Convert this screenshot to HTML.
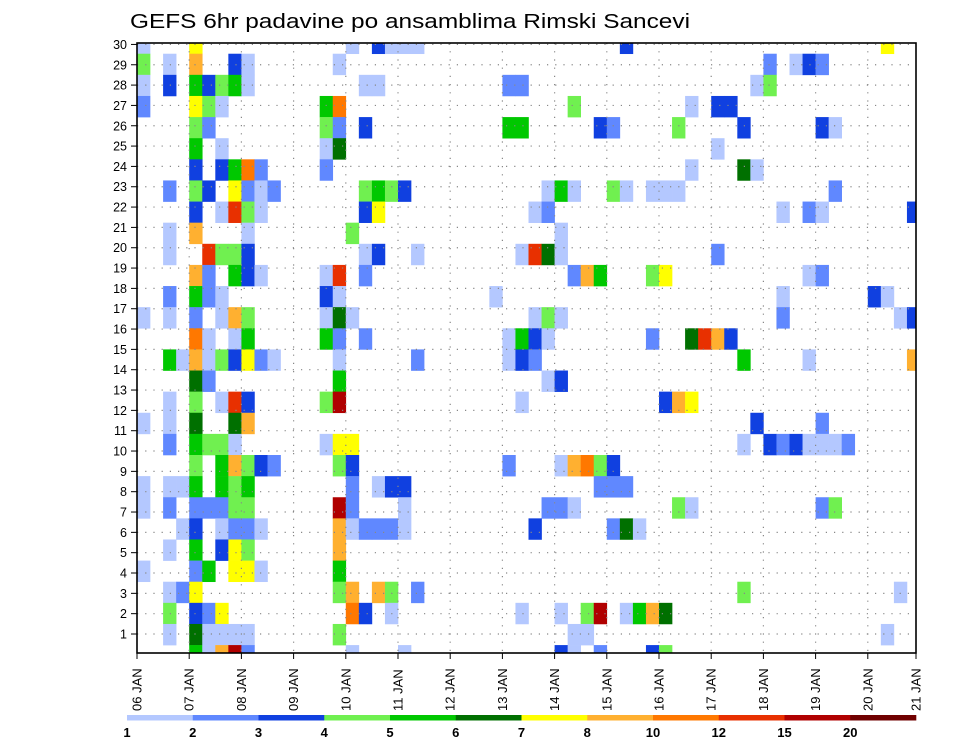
<!DOCTYPE html>
<html><head><meta charset="utf-8"><style>
html,body{margin:0;padding:0;background:#fff;}
svg{display:block;font-family:"Liberation Sans",sans-serif;}
</style></head><body>
<svg id="chart" width="960" height="742" viewBox="0 0 960 742" xmlns="http://www.w3.org/2000/svg">
<rect x="0" y="0" width="960" height="742" fill="#fff"/>
<text x="130" y="28" font-size="20" textLength="560" lengthAdjust="spacingAndGlyphs" fill="#000">GEFS 6hr padavine po ansamblima Rimski Sancevi</text>
<defs><clipPath id="plotclip"><rect x="137" y="43" width="779" height="610"/></clipPath></defs>
<g id="cells" clip-path="url(#plotclip)"></g>
<g id="grid"></g>
<rect x="137" y="43" width="779" height="610" fill="none" stroke="#000" stroke-width="1.6"/>
<g id="yaxis"></g>
<g id="xaxis"></g>
<g id="cbar"></g>
</svg>
<script>
// Data: each row is one ensemble row (top to bottom), entries "step:value" (6h steps from 06 JAN 00z)
const members = [30,29,28,27,26,25,24,23,22,21,20,19,18,17,16,15,14,13,12,11,10,9,8,7,6,5,4,3,2,1];
const rowCells = [
"0:1 4:7 16:1 18:3 19:1 20:1 21:1 37:3 57:7",
"0:4 2:1 4:8 7:3 8:1 15:1 48:2 50:1 51:3 52:2",
"0:1 2:3 4:5 5:3 6:4 7:5 8:1 17:1 18:1 28:2 29:2 47:1 48:4",
"0:2 4:7 5:4 6:1 14:5 15:10 33:4 42:1 44:3 45:3",
"4:4 5:2 14:4 15:2 17:3 28:5 29:5 35:3 36:2 41:4 46:3 52:3 53:1",
"4:5 6:1 14:1 15:6 44:1",
"4:3 6:3 7:5 8:10 9:2 14:2 42:1 46:6 47:1",
"2:2 4:4 5:3 7:7 8:2 9:1 10:2 17:4 18:5 19:4 20:3 31:1 32:5 33:1 36:4 37:1 39:1 40:1 41:1 53:2",
"4:3 6:1 7:12 8:4 9:1 17:3 18:7 30:1 31:2 49:1 51:2 52:1 59:3",
"2:1 4:8 8:1 16:4 32:1",
"2:1 5:12 6:4 7:4 8:3 17:1 18:3 21:1 29:1 30:12 31:6 32:1 44:2",
"4:8 5:2 7:5 8:3 9:1 14:1 15:12 17:2 33:2 34:8 35:5 39:4 40:7 51:1 52:2",
"2:2 4:5 5:2 6:1 14:3 15:1 27:1 49:1 56:3 57:1",
"0:1 2:1 4:2 6:1 7:8 8:4 14:1 15:6 16:1 30:1 31:4 32:1 49:2 58:1 59:3",
"4:10 5:1 7:1 8:5 14:5 15:2 17:2 28:1 29:5 30:3 31:1 39:2 42:6 43:12 44:8 45:3",
"2:5 3:1 4:8 5:1 6:4 7:3 8:7 9:2 10:1 15:1 21:2 28:1 29:3 30:2 46:5 51:1 59:8",
"4:6 5:2 15:5 31:1 32:3",
"2:1 4:4 6:1 7:12 8:3 14:4 15:15 29:1 40:3 41:8 42:7",
"0:1 2:1 4:6 7:6 8:8 47:3 52:2",
"2:2 4:5 5:4 6:4 7:1 14:1 15:7 16:7 46:1 48:3 49:2 50:3 51:1 52:1 53:1 54:2",
"4:4 6:5 7:8 8:4 9:3 10:2 15:4 16:3 28:2 32:1 33:8 34:10 35:4 36:3",
"0:1 2:1 3:1 4:5 6:5 7:4 8:5 16:2 18:1 19:3 20:3 35:2 36:2 37:2",
"0:1 2:2 4:2 5:2 6:2 7:4 8:4 15:15 16:2 20:1 31:2 32:2 33:1 41:4 42:1 52:2 53:4",
"3:1 4:3 6:1 7:2 8:2 9:1 15:8 16:1 17:2 18:2 19:2 20:1 30:3 36:2 37:6 38:1",
"2:1 4:5 6:3 7:7 8:4 15:8",
"0:1 4:2 5:5 7:7 8:7 9:1 15:5",
"2:1 3:2 4:7 15:4 16:8 18:8 19:4 21:2 46:4 58:1",
"2:4 4:3 5:2 6:7 16:10 17:3 19:1 29:1 32:1 34:4 35:15 37:1 38:5 39:8 40:6",
"2:1 4:6 5:1 6:1 7:1 8:1 15:4 33:1 34:1 57:1",
"4:5 5:1 6:8 7:15 8:2 16:1 20:1 32:3 33:1 35:2 39:3 40:4"
];
const levels = [1,2,3,4,5,6,7,8,10,12,15,20];
const levelColors = ["#b4c8ff","#6088ff","#1040e0","#70f050","#00c800","#007000","#ffff00","#ffb030","#ff7800","#e83000","#b00000","#700000"];
const yTicks = [1,2,3,4,5,6,7,8,9,10,11,12,13,14,15,16,17,18,19,20,21,22,23,24,25,26,27,28,29,30];
const dayLabels = ["06","07","08","09","10","11","12","13","14","15","16","17","18","19","20","21"];

const NS = "http://www.w3.org/2000/svg";
const X0 = 137, XR = 916, DAY = 52.2, STEP = DAY/4;
const CELL_TOP = 32.6, CELL_H = 21.12;
function xStep(s){ return X0 + s*STEP; }
function xDay(d){ return Math.min(XR, X0 + d*DAY); }
function yRow(k){ return CELL_TOP + k*CELL_H; }
function yTick(v){ return 634 - (v-1)*20.33; }
function colorFor(v){ let i = levels.indexOf(v); if(i<0){ i=0; for(let j=0;j<levels.length;j++) if(v>=levels[j]) i=j; } return levelColors[i]; }
function mk(tag, attrs, parent){ const e=document.createElementNS(NS,tag); for(const k in attrs) e.setAttribute(k, attrs[k]); parent.appendChild(e); return e; }

const cellsG = document.getElementById('cells');
rowCells.forEach((row, k) => {
  row.split(' ').filter(Boolean).forEach(tok => {
    const [s, v] = tok.split(':').map(Number);
    const r = mk('rect', {x: xStep(s).toFixed(2), y: yRow(k).toFixed(2), width: (STEP+0.3).toFixed(2), height: (CELL_H+0.3).toFixed(2), fill: colorFor(v)}, cellsG);
    
    
  });
});

const gridG = document.getElementById('grid');
yTicks.forEach(v => {
  const l = mk('line', {x1: X0, x2: XR, y1: yTick(v), y2: yTick(v), stroke: '#888', 'stroke-width': 1.2, 'stroke-dasharray': '1.2,7'}, gridG);
  
  
});
dayLabels.forEach((d, i) => {
  if(i===0 || i===dayLabels.length-1) return;
  const l = mk('line', {x1: xDay(i), x2: xDay(i), y1: 43, y2: 653, stroke: '#888', 'stroke-width': 1.2, 'stroke-dasharray': '1.2,7'}, gridG);
  
  
});

const yG = document.getElementById('yaxis');
yTicks.forEach(v => {
  const t = mk('line', {x1: 131, x2: 137, y1: yTick(v), y2: yTick(v), stroke: '#000', 'stroke-width': 1}, yG);
  
  
  const tx = mk('text', {x: 127, y: yTick(v)+4.5, 'font-size': 12.5, 'text-anchor': 'end', fill: '#000'}, yG);
  tx.textContent = v;
  
  
});

const xG = document.getElementById('xaxis');
dayLabels.forEach((d, i) => {
  const x = xDay(i);
  const t = mk('line', {x1: x, x2: x, y1: 653, y2: 659, stroke: '#000', 'stroke-width': 1}, xG);
  
  
  const tx = mk('text', {x: 0, y: 0, 'font-size': 13, transform: 'translate(' + (x+4.5) + ',711) rotate(-90)', fill: '#000'}, xG);
  tx.textContent = d + ' JAN';
  
  
});

const cG = document.getElementById('cbar');
const CB0 = 127, CBW = (916-127)/levels.length;
levels.forEach((v, i) => {
  const r = mk('rect', {x: (CB0 + i*CBW).toFixed(2), y: 715, width: (CBW+0.3).toFixed(2), height: 5.5, fill: levelColors[i]}, cG);
  
  
  const tx = mk('text', {x: (CB0 + i*CBW).toFixed(2), y: 737, 'font-size': 13, 'font-weight': 'bold', 'text-anchor': 'middle', fill: '#000'}, cG);
  tx.textContent = v;
  
  
});
</script>
</body></html>
